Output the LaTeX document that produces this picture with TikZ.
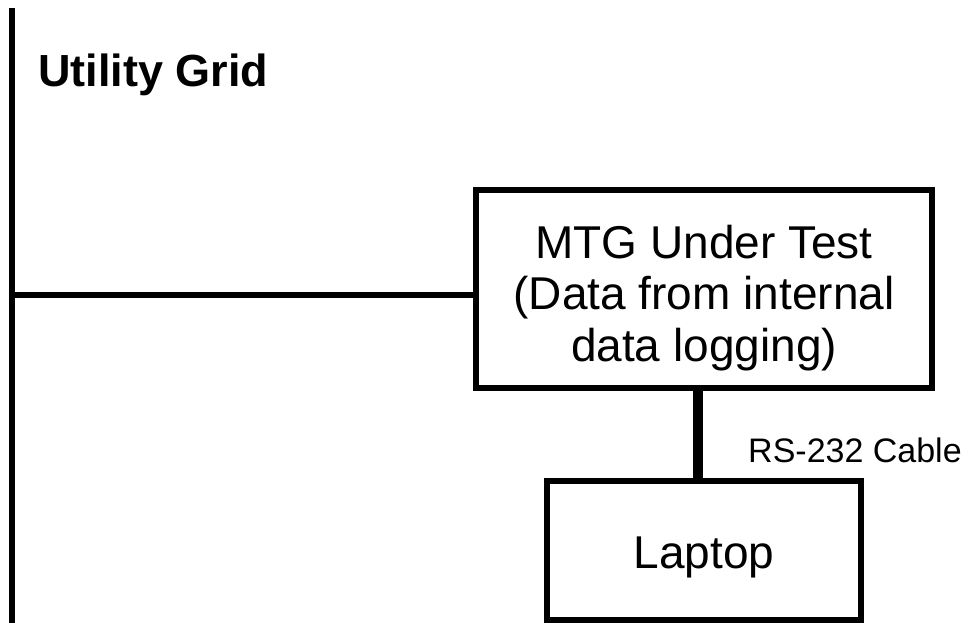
\documentclass[tikz,border=0pt]{standalone}
\usepackage{fontspec}
\setmainfont{Liberation Sans}
\usetikzlibrary{positioning, calc}
\begin{document}
\begin{tikzpicture}[x=1pt, y=-1pt, line join=miter,
        box/.style={draw, line width=6pt, inner sep=0pt},
        wire/.style={line width=6pt},
        cable/.style={line width=10pt}]
  \useasboundingbox (0,0) rectangle (969,623);
  % utility grid bus
  \coordinate (gridtop) at (12,8);
  \coordinate (gridbot) at (12,626);
  \coordinate (tap) at (12,295);
  \draw[wire] (gridtop) -- (gridbot);
  \node[anchor=base west, inner sep=0pt, font=\fontsize{45}{50}\selectfont\bfseries] (grid) at (38,87) {Utility Grid};
  % device under test and laptop
  \node[box, minimum width=456pt, minimum height=198pt] (mtg) at (704,289) {};
  \node[align=center, inner sep=0pt, font=\fontsize{46}{51.2}\selectfont] (mtgtext) at ([yshift=-9pt]mtg.center)
        {MTG Under Test\\(Data from internal\\data logging)};
  \node[box, minimum width=314pt, minimum height=139pt, text height=45pt, text depth=10pt,
        font=\fontsize{46}{51}\selectfont] (laptop) at (704,550.5) {Laptop};
  \coordinate (plug) at (698,0);
  \draw[wire] (tap) -- (tap -| mtg.west);
  \draw[cable] (plug |- mtg.south) -- (plug |- laptop.north);
  \node[anchor=base west, inner sep=0pt, font=\fontsize{34}{40}\selectfont] (cablelabel) at (748,462) {RS-232 Cable};
\end{tikzpicture}
\end{document}
